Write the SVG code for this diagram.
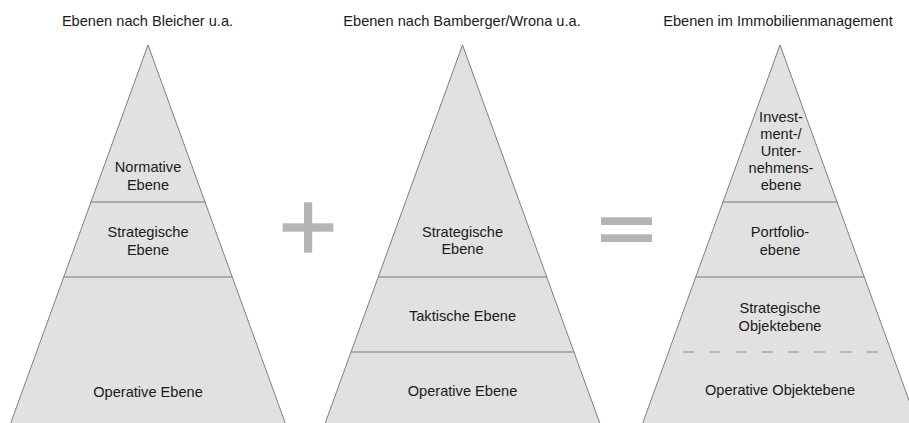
<svg xmlns="http://www.w3.org/2000/svg" width="909" height="423" viewBox="0 0 909 423">
  <style>
    text { font-family: "Liberation Sans", Arial, sans-serif; font-size: 14.6px; fill: #1a1a1a; text-anchor: middle; }
    .pyr { fill: #e1e1e1; stroke: #7f7f7f; stroke-width: 1; }
    .div { stroke: #7a7a7a; stroke-width: 1.2; fill: none; }
    .dash { stroke: #8a8a8a; stroke-width: 1.2; stroke-dasharray: 11 15.2; fill: none; }
    .op { fill: #b5b5b5; }
  </style>
  <rect width="909" height="423" fill="#ffffff"/>

  <g id="pyramid-bleicher">
    <text x="147.5" y="25.5">Ebenen nach Bleicher u.a.</text>
    <polygon class="pyr" points="148,45 285.6,424 10.4,424"/>
    <line class="div" x1="91" y1="202" x2="205" y2="202"/>
    <line class="div" x1="63.8" y1="277" x2="232.2" y2="277"/>
    <text x="148" y="172.3">Normative</text>
    <text x="148" y="190">Ebene</text>
    <text x="148" y="237">Strategische</text>
    <text x="148" y="254.5">Ebene</text>
    <text x="148" y="396.5">Operative Ebene</text>
  </g>

  <g id="plus">
    <rect class="op" x="282.7" y="223.3" width="50.6" height="8.4"/>
    <rect class="op" x="304" y="202.3" width="8.2" height="50.4"/>
  </g>

  <g id="pyramid-bamberger">
    <text x="462" y="25.5">Ebenen nach Bamberger/Wrona u.a.</text>
    <polygon class="pyr" points="462.5,45 600.1,424 324.9,424"/>
    <line class="div" x1="378.3" y1="277" x2="546.7" y2="277"/>
    <line class="div" x1="351.1" y1="352" x2="573.9" y2="352"/>
    <text x="462.5" y="236.7">Strategische</text>
    <text x="462.5" y="254.3">Ebene</text>
    <text x="462.5" y="321">Taktische Ebene</text>
    <text x="462.5" y="396">Operative Ebene</text>
  </g>

  <g id="equals">
    <rect class="op" x="601" y="217.3" width="51" height="7.7"/>
    <rect class="op" x="601" y="234.3" width="51" height="7.7"/>
  </g>

  <g id="pyramid-immobilien">
    <text x="778" y="25.5">Ebenen im Immobilienmanagement</text>
    <polygon class="pyr" points="780,45 917.6,424 642.4,424"/>
    <line class="div" x1="723" y1="202" x2="837" y2="202"/>
    <line class="div" x1="695.8" y1="277" x2="864.2" y2="277"/>
    <line class="dash" x1="683.3" y1="352" x2="879" y2="352"/>
    <text x="781" y="122">Invest-</text>
    <text x="781" y="139">ment-/</text>
    <text x="781" y="156">Unter-</text>
    <text x="781" y="173">nehmens-</text>
    <text x="781" y="190">ebene</text>
    <text x="780" y="237.2">Portfolio-</text>
    <text x="780" y="254.5">ebene</text>
    <text x="780" y="313">Strategische</text>
    <text x="780" y="330.5">Objektebene</text>
    <text x="780" y="395">Operative Objektebene</text>
  </g>

  <g id="connectors"></g>
</svg>
